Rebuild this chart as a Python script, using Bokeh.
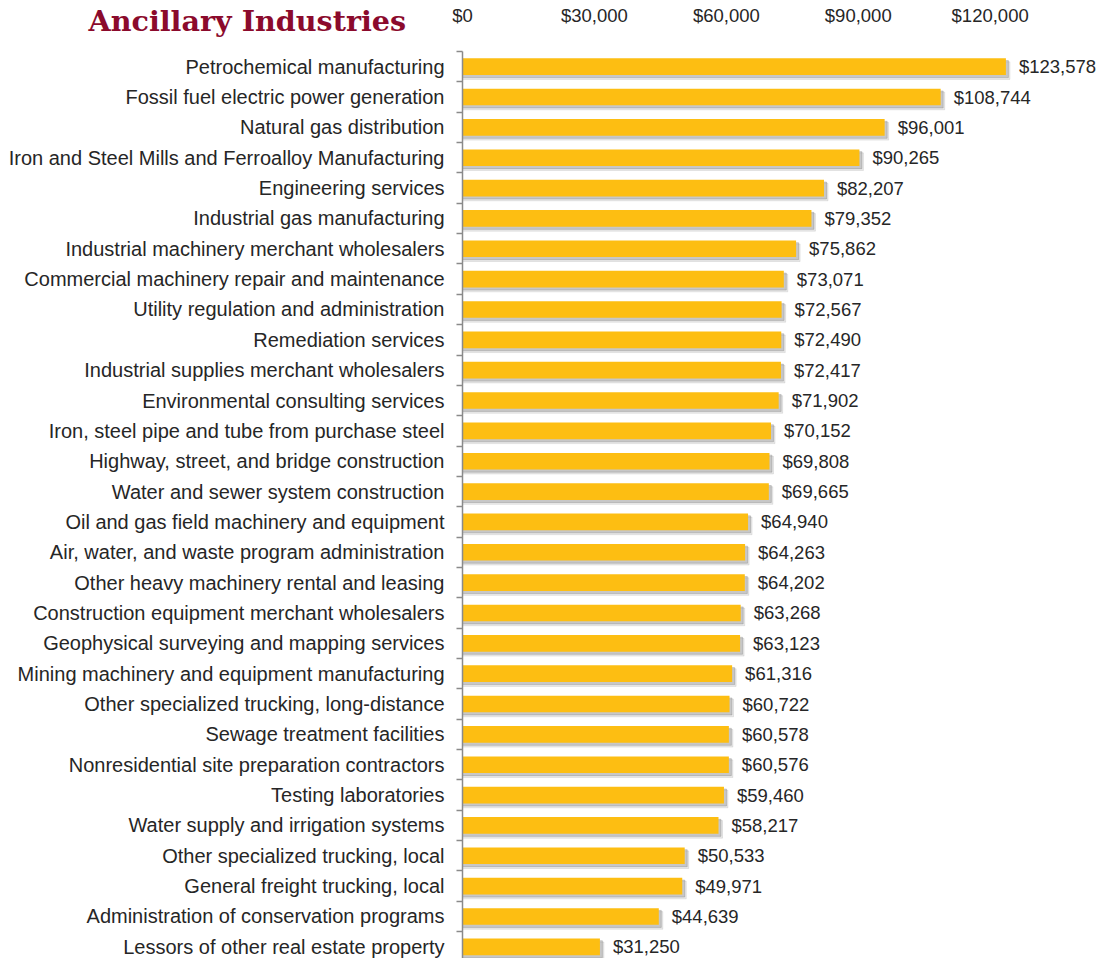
from bokeh.plotting import figure
from bokeh.models import Range1d, FixedTicker, NumeralTickFormatter, LinearAxis, Label, ColumnDataSource
from bokeh.core.properties import value
from bokeh.embed import file_html
from bokeh.resources import INLINE

categories = [
    "Petrochemical manufacturing",
    "Fossil fuel electric power generation",
    "Natural gas distribution",
    "Iron and Steel Mills and Ferroalloy Manufacturing",
    "Engineering services",
    "Industrial gas manufacturing",
    "Industrial machinery merchant wholesalers",
    "Commercial machinery repair and maintenance",
    "Utility regulation and administration",
    "Remediation services",
    "Industrial supplies merchant wholesalers",
    "Environmental consulting services",
    "Iron, steel pipe and tube from purchase steel",
    "Highway, street, and bridge construction",
    "Water and sewer system construction",
    "Oil and gas field machinery and equipment",
    "Air, water, and waste program administration",
    "Other heavy machinery rental and leasing",
    "Construction equipment merchant wholesalers",
    "Geophysical surveying and mapping services",
    "Mining machinery and equipment manufacturing",
    "Other specialized trucking, long-distance",
    "Sewage treatment facilities",
    "Nonresidential site preparation contractors",
    "Testing laboratories",
    "Water supply and irrigation systems",
    "Other specialized trucking, local",
    "General freight trucking, local",
    "Administration of conservation programs",
    "Lessors of other real estate property",
]
wages = [123578, 108744, 96001, 90265, 82207, 79352, 75862, 73071, 72567, 72490,
         72417, 71902, 70152, 69808, 69665, 64940, 64263, 64202, 63268, 63123,
         61316, 60722, 60578, 60576, 59460, 58217, 50533, 49971, 44639, 31250]
x_ticks = [0, 30000, 60000, 90000, 120000]
title_text = "Ancillary Industries"

n = len(categories)
pos = list(range(n))
labels = ["$" + f"{v:,}" for v in wages]

W, H = 1104, 958
X0 = 462            # pixel column of the value axis
TOP = 51            # pixel row of the first category boundary
XMAX = 146000
px = (W - X0) / XMAX          # pixels per dollar
ROW = 30.35                   # pixels per category row

src = ColumnDataSource(dict(y=pos, v=wages, lab=labels,
                            ys1=[y + 0.13 for y in pos], vs1=[v + 4.0 / px for v in wages],
                            ys2=[y + 0.08 for y in pos], vs2=[v + 2.5 / px for v in wages]))

p = figure(width=W, height=H, output_backend="svg", toolbar_location=None,
           x_range=Range1d(-X0 / px, XMAX),
           y_range=Range1d(-0.5 + (H - TOP) / ROW, -0.5 - TOP / ROW),
           x_axis_location=None, y_axis_location=None,
           min_border=0)
p.outline_line_color = None
p.xgrid.visible = False
p.ygrid.visible = False
p.background_fill_color = "white"
p.border_fill_color = "white"

# shadows
p.hbar(y="ys1", right="vs1", left=0, height=0.58, source=src, color="#7a7a7a", alpha=0.16)
p.hbar(y="ys2", right="vs2", left=0, height=0.56, source=src, color="#6a6a6a", alpha=0.28)
# bars
p.hbar(y="y", right="v", left=0, height=0.55, source=src, fill_color="#FDBE12", line_color=None)

p.text(x="v", y="y", text="lab", source=src, x_offset=13,
       text_font=value("Liberation Sans"), text_font_size="18.5px", text_color="#262626",
       text_baseline="middle", text_align="left")

# top x axis (fixed at the first category boundary)
xa = LinearAxis(ticker=FixedTicker(ticks=x_ticks), formatter=NumeralTickFormatter(format="$0,0"),
                fixed_location=-0.5)
xa.axis_line_color = None
xa.major_tick_line_color = None
xa.minor_tick_line_color = None
xa.major_tick_out = 0
xa.major_tick_in = 0
xa.major_label_standoff = 26
xa.major_label_text_font = "Liberation Sans"
xa.major_label_text_font_size = "18.5px"
xa.major_label_text_color = "#262626"
p.add_layout(xa, "above")

# left y axis with category names (fixed at $0)
ya = LinearAxis(ticker=FixedTicker(ticks=pos, minor_ticks=[i - 0.5 for i in range(n + 1)]),
                fixed_location=0, bounds=(-0.5, n))
ya.major_label_overrides = {i: c for i, c in enumerate(categories)}
ya.axis_line_color = "#8a8a8a"
ya.axis_line_width = 1.5
ya.major_tick_line_color = None
ya.major_tick_out = 0
ya.major_tick_in = 0
ya.minor_tick_line_color = "#8a8a8a"
ya.minor_tick_line_width = 1.5
ya.minor_tick_out = 6
ya.minor_tick_in = 0
ya.major_label_standoff = 12
ya.major_label_text_font = "Liberation Sans"
ya.major_label_text_font_size = "20px"
ya.major_label_text_color = "#262626"
p.add_layout(ya, "left")

p.add_layout(Label(x=(88 - X0) / px, y=-0.5 - (TOP - 20) / ROW, text=title_text,
                   text_font="DejaVu Serif", text_font_style="bold", text_font_size="28.6px",
                   text_color="#8B0A2C", text_baseline="middle", text_align="left"))

open("out.html", "w").write(file_html(p, INLINE))
